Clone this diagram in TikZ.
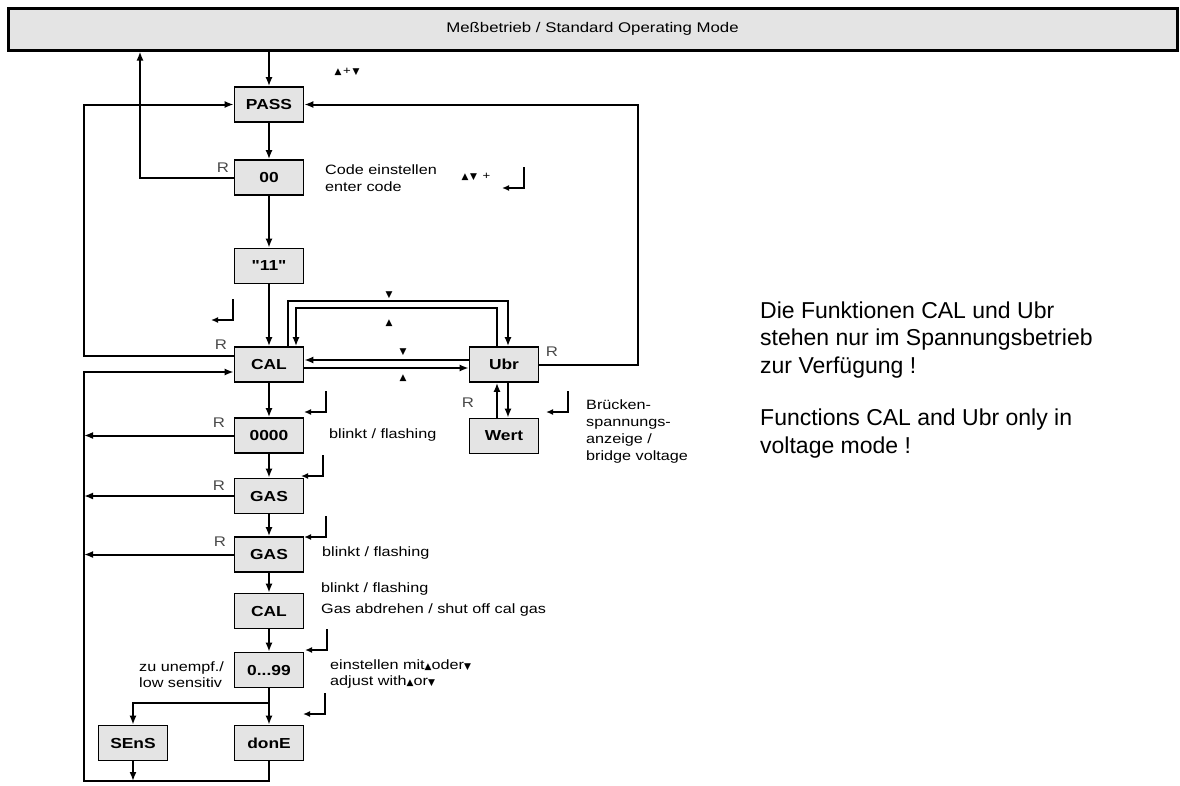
\documentclass[tikz,border=0pt]{standalone}
\usepackage{fontspec}
\setmainfont{Liberation Sans}
\newfontfamily\diagfont{Liberation Sans}[FakeStretch=1.2]
\newfontfamily\symfont{DejaVu Sans}
\usetikzlibrary{arrows.meta,positioning}
\definecolor{boxgray}{HTML}{E4E4E4}
\definecolor{rgray}{HTML}{4A4A4A}
\newcommand\keyup{{\symfont\fontsize{9}{9}\selectfont ▲}}
\newcommand\keydn{{\symfont\fontsize{9}{9}\selectfont ▼}}
\tikzset{
  bar/.style={draw,line width=3pt,fill=boxgray,minimum width=1169pt,minimum height=42pt,
    font=\diagfont\fontsize{14}{16}\selectfont},
  state/.style={draw,line width=1.6pt,fill=boxgray,minimum width=69pt,minimum height=35pt,
    inner sep=0pt,font=\diagfont\fontsize{14.5}{16}\selectfont\bfseries},
  flow/.style={line width=2pt,-{Latex[length=9pt,width=7pt]}},
  rlab/.style={text=rgray,inner sep=0pt,font=\diagfont\fontsize{14}{15}\selectfont},
  note/.style={anchor=west,align=left,inner sep=0pt,font=\diagfont\fontsize{13.5}{17}\selectfont},
  keymark/.style={inner sep=0pt},
  retkey/.pic={\draw[line width=1.6pt,-{Latex[length=7pt,width=6pt]}] (0,0) -- (0,21) -- (-22,21);}
}
\begin{document}
\begin{tikzpicture}[x=1pt,y=-1pt]
  \useasboundingbox (0,0) rectangle (1180,785);
  \node[bar] (mode) at (592.5,29) {Meßbetrieb / Standard Operating Mode};
  % main column
  \node[state] (pass)   at (269,104.5) {PASS};
  \node[state] (code)   at (269,177.5) {00};
  \node[state] (eleven) at (269,266)   {"11"};
  \node[state] (cal)    at (269,364.5) {CAL};
  \node[state] (zero)   at (269,435.5) {0000};
  \node[state] (gas)    at (269,496)   {GAS};
  \node[state] (gasb)   at (269,554.5) {GAS};
  \node[state] (calb)   at (269,611)   {CAL};
  \node[state] (range)  at (269,670)   {0...99};
  \node[state] (sens)   at (133,743)   {SEnS};
  \node[state] (done)   at (269,743)   {donE};
  \node[state] (ubr)    at (504,364.5) {Ubr};
  \node[state] (wert)   at (504,436)   {Wert};
  \coordinate (rx) at (140,0);
  \coordinate (bot) at (84,781);
  % forward steps
  \draw[flow] (mode.south -| pass) -- (pass);
  \draw[flow] (pass) -- (code);
  \draw[flow] (code) -- (eleven);
  \draw[flow] (eleven) -- (cal);
  \draw[flow] (cal) -- (zero);
  \draw[flow] (zero) -- (gas);
  \draw[flow] (gas) -- (gasb);
  \draw[flow] (gasb) -- (calb);
  \draw[flow] (calb) -- (range);
  \draw[flow] (range) -- (done);
  \draw[flow] (range.south) -- ++(0,15) -| (sens.north);
  % returns
  \draw[flow] (code.west) -| (mode.south -| rx);
  \draw[flow] ([yshift=8.5pt]cal.west) -- ++(-150,0) |- (pass.west);
  \draw[flow] (ubr.east) -- ++(99,0) |- (pass.east);
  \draw[flow] (done.south) |- (bot) |- ([yshift=-7.5pt]cal.west);
  \draw[flow] (sens.south) -- (sens.south |- bot);
  \draw[flow] (zero.west) -- (zero.west -| bot);
  \draw[flow] (gas.west) -- (gas.west -| bot);
  \draw[flow] (gasb.west) -- (gasb.west -| bot);
  % CAL <-> Ubr
  \draw[flow] ([yshift=4.5pt]ubr.west) -- ([yshift=4.5pt]cal.east);
  \draw[flow,line width=2.6pt] ([yshift=-3.5pt]cal.east) -- ([yshift=-3.5pt]ubr.west);
  \draw[flow] ([xshift=19pt]cal.north) -- ++(0,-45) -| ([xshift=4pt]ubr.north);
  \draw[flow] ([xshift=-7pt]ubr.north) -- ++(0,-38) -| ([xshift=27pt]cal.north);
  \draw[flow] ([xshift=4pt]ubr.south) -- ([xshift=4pt]wert.north);
  \draw[flow] ([xshift=-7pt]wert.north) -- ([xshift=-7pt]ubr.south);
  % key marks
  \node[keymark] at (347,72) {\keyup\,{\diagfont\fontsize{11}{11}\selectfont +}\,\keydn};
  \node[keymark] at (476,177) {\keyup\,\keydn\;\;{\diagfont\fontsize{11}{11}\selectfont +}};
  \node[keymark] at (389,295) {\keydn};
  \node[keymark] at (389,323) {\keyup};
  \node[keymark] at (403,352) {\keydn};
  \node[keymark] at (403,378) {\keyup};
  \pic at (524,167) {retkey};
  \pic at (233,299) {retkey};
  \pic at (326,391) {retkey};
  \pic at (323,455) {retkey};
  \pic at (326,516) {retkey};
  \pic at (327,629) {retkey};
  \pic at (325,693) {retkey};
  \pic at (568,391) {retkey};
  % R labels
  \node[rlab] at (223,168) {R};
  \node[rlab] at (221,345) {R};
  \node[rlab] at (219,423) {R};
  \node[rlab] at (219,486) {R};
  \node[rlab] at (220,542) {R};
  \node[rlab] at (552,352) {R};
  \node[rlab] at (468,403) {R};
  % notes
  \node[note] at (325,178) {Code einstellen\\enter code};
  \node[note] at (329,435) {blinkt / flashing};
  \node[note] at (322,553) {blinkt / flashing};
  \node[note,font=\diagfont\fontsize{13.5}{21}\selectfont] at (321,599) {blinkt / flashing\\Gas abdrehen / shut off cal gas};
  \node[note,font=\diagfont\fontsize{13.5}{16}\selectfont] at (330,674) {einstellen mit\keyup oder\keydn\\adjust with\keyup or\keydn};
  \node[note,font=\diagfont\fontsize{13.5}{16}\selectfont] at (139,675) {zu unempf./\\low sensitiv};
  \node[note] at (586,431) {Brücken-\\spannungs-\\anzeige /\\bridge voltage};
  \node[anchor=west,align=left,inner sep=0pt,font=\fontsize{23}{27.5}\selectfont] at (760,380)
    {Die Funktionen CAL und Ubr\\stehen nur im Spannungsbetrieb\\zur Verfügung !\\[25pt]Functions CAL and Ubr only in\\voltage mode !};
\end{tikzpicture}
\end{document}
